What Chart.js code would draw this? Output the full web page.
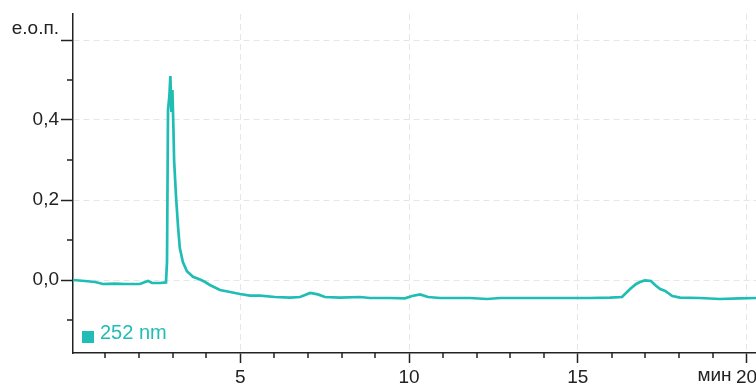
<!DOCTYPE html>
<html lang="ru">
<head>
    <meta charset="UTF-8">
    <title>252 nm</title>
    <style>
        html, body { margin: 0; padding: 0; background: #fff; overflow: hidden; }
    </style>
</head>
<body>
<canvas id="myChart" width="756" height="383"></canvas>
<script src="https://cdn.jsdelivr.net/npm/chart.js"></script>
<script>
    // retention time, min
    const times = [0.04, 0.40, 0.70, 0.93, 1.29, 1.59, 2.03, 2.18, 2.27, 2.39, 2.62, 2.80,
        2.83, 2.86, 2.90, 2.93, 2.96, 2.99, 3.02, 3.04, 3.10, 3.16, 3.21, 3.30, 3.42, 3.60,
        3.81, 3.96, 4.10, 4.40, 4.70, 4.99, 5.29, 5.59, 6.03, 6.47, 6.77, 6.92, 7.07, 7.30,
        7.51, 7.96, 8.55, 8.84, 9.44, 9.88, 10.09, 10.33, 10.56, 10.92, 11.81, 12.31, 12.70,
        13.59, 14.47, 15.36, 15.96, 16.31, 16.55, 16.73, 16.84, 16.99, 17.17, 17.29, 17.44,
        17.59, 17.80, 18.03, 18.62, 19.21, 19.80, 20.28];
    // absorbance at 252 nm
    const absorbance = [0.0, -0.0025, -0.005, -0.01, -0.009, -0.01, -0.01, -0.005, -0.0025, -0.0075, -0.0075, -0.006,
        0.045, 0.425, 0.46, 0.51, 0.42, 0.475, 0.38, 0.30, 0.205, 0.13, 0.08, 0.045, 0.022, 0.008,
        0.001, -0.005, -0.0125, -0.025, -0.03, -0.035, -0.039, -0.039, -0.0425, -0.044, -0.0425, -0.0375, -0.0325, -0.036,
        -0.0425, -0.044, -0.0425, -0.045, -0.045, -0.046, -0.04, -0.036, -0.0425, -0.045, -0.045, -0.0475, -0.045,
        -0.045, -0.045, -0.045, -0.044, -0.0425, -0.0225, -0.01, -0.005, -0.001, -0.0025, -0.0125, -0.0225,
        -0.0275, -0.04, -0.044, -0.045, -0.0475, -0.046, -0.045];

    const xMajorTicks = [5, 10, 15, 20];
    const xMinorTicks = [1, 2, 3, 4, 6, 7, 8, 9, 11, 12, 13, 14, 16, 17, 18, 19];
    const yMajorTicks = [0, 0.2, 0.4, 0.6];
    const yMinorTicks = [-0.1, 0.1, 0.3, 0.5];
    const yTickLabels = ['0,0', '0,2', '0,4', 'е.о.п.'];
    const xUnit = 'мин';
    const seriesName = '252 nm';

    const lineColor = '#20bdb5';
    const axisColor = '#222';
    const gridColor = '#e6e6e6';

    Chart.defaults.font.family = '"Liberation Sans", Arial, sans-serif';
    Chart.defaults.color = axisColor;

    // minor ticks, unit label and the little legend in the corner
    const extras = {
        id: 'extras',
        afterDraw(chart) {
            const {ctx, scales: {x, y}} = chart;
            ctx.save();
            ctx.strokeStyle = axisColor;
            ctx.lineWidth = 1.5;
            ctx.beginPath();
            xMinorTicks.forEach(v => {
                const px = Math.round(x.getPixelForValue(v));
                ctx.moveTo(px, x.top);
                ctx.lineTo(px, x.top + 5);
            });
            yMinorTicks.forEach(v => {
                const py = Math.round(y.getPixelForValue(v));
                ctx.moveTo(y.right, py);
                ctx.lineTo(y.right - 6, py);
            });
            ctx.stroke();

            ctx.fillStyle = axisColor;
            ctx.font = '19px "Liberation Sans", Arial, sans-serif';
            ctx.textAlign = 'right';
            ctx.textBaseline = 'alphabetic';
            ctx.fillText(xUnit, x.getPixelForValue(20) - 15, x.top + 28);

            ctx.fillStyle = lineColor;
            ctx.fillRect(x.left + 9, y.bottom - 22, 12, 12);
            ctx.font = '20px "Liberation Sans", Arial, sans-serif';
            ctx.textAlign = 'left';
            ctx.fillText(chart.data.datasets[0].label, x.left + 27, y.bottom - 14);
            ctx.restore();
        }
    };

    const ctx = document.getElementById('myChart');
    new Chart(ctx, {
        type: 'line',
        data: {
            datasets: [{
                label: seriesName,
                data: times.map((t, i) => ({x: t, y: absorbance[i]})),
                borderColor: lineColor,
                borderWidth: 2.7,
                pointRadius: 0,
                tension: 0
            }]
        },
        options: {
            responsive: false,
            animation: false,
            devicePixelRatio: 1,
            layout: { padding: { top: 14, left: 0, right: 0, bottom: 0 } },
            plugins: { legend: { display: false }, tooltip: { enabled: false } },
            scales: {
                x: {
                    type: 'linear',
                    min: 0.045,
                    max: 20.28,
                    afterBuildTicks: s => { s.ticks = xMajorTicks.map(v => ({value: v})); },
                    afterFit: s => { s.height = 30; s.paddingLeft = 0; s.paddingRight = 0; },
                    ticks: {
                        autoSkip: false,
                        maxRotation: 0,
                        padding: 3,
                        font: { size: 19 },
                        callback: v => String(v)
                    },
                    grid: {
                        color: gridColor,
                        lineWidth: 1,
                        tickLength: 10,
                        tickColor: axisColor,
                        tickWidth: 1.5,
                        tickBorderDash: []
                    },
                    border: { color: axisColor, width: 1.5, dash: [6, 4] }
                },
                y: {
                    min: -0.1825,
                    max: 0.665,
                    afterBuildTicks: s => { s.ticks = yMajorTicks.map(v => ({value: v})); },
                    afterFit: s => { s.width = 73; s.paddingTop = 0; s.paddingBottom = 0; },
                    ticks: {
                        padding: 2,
                        font: { size: 19 },
                        callback: v => {
                            const lbl = yTickLabels[yMajorTicks.indexOf(v)];
                            return v === 0.6 ? [lbl, ''] : lbl;
                        }
                    },
                    grid: {
                        color: gridColor,
                        lineWidth: 1,
                        tickLength: 12,
                        tickColor: axisColor,
                        tickWidth: 1.5,
                        tickBorderDash: []
                    },
                    border: { color: axisColor, width: 1.5, dash: [6, 4] }
                }
            }
        },
        plugins: [extras]
    });
</script>
</body>
</html>
